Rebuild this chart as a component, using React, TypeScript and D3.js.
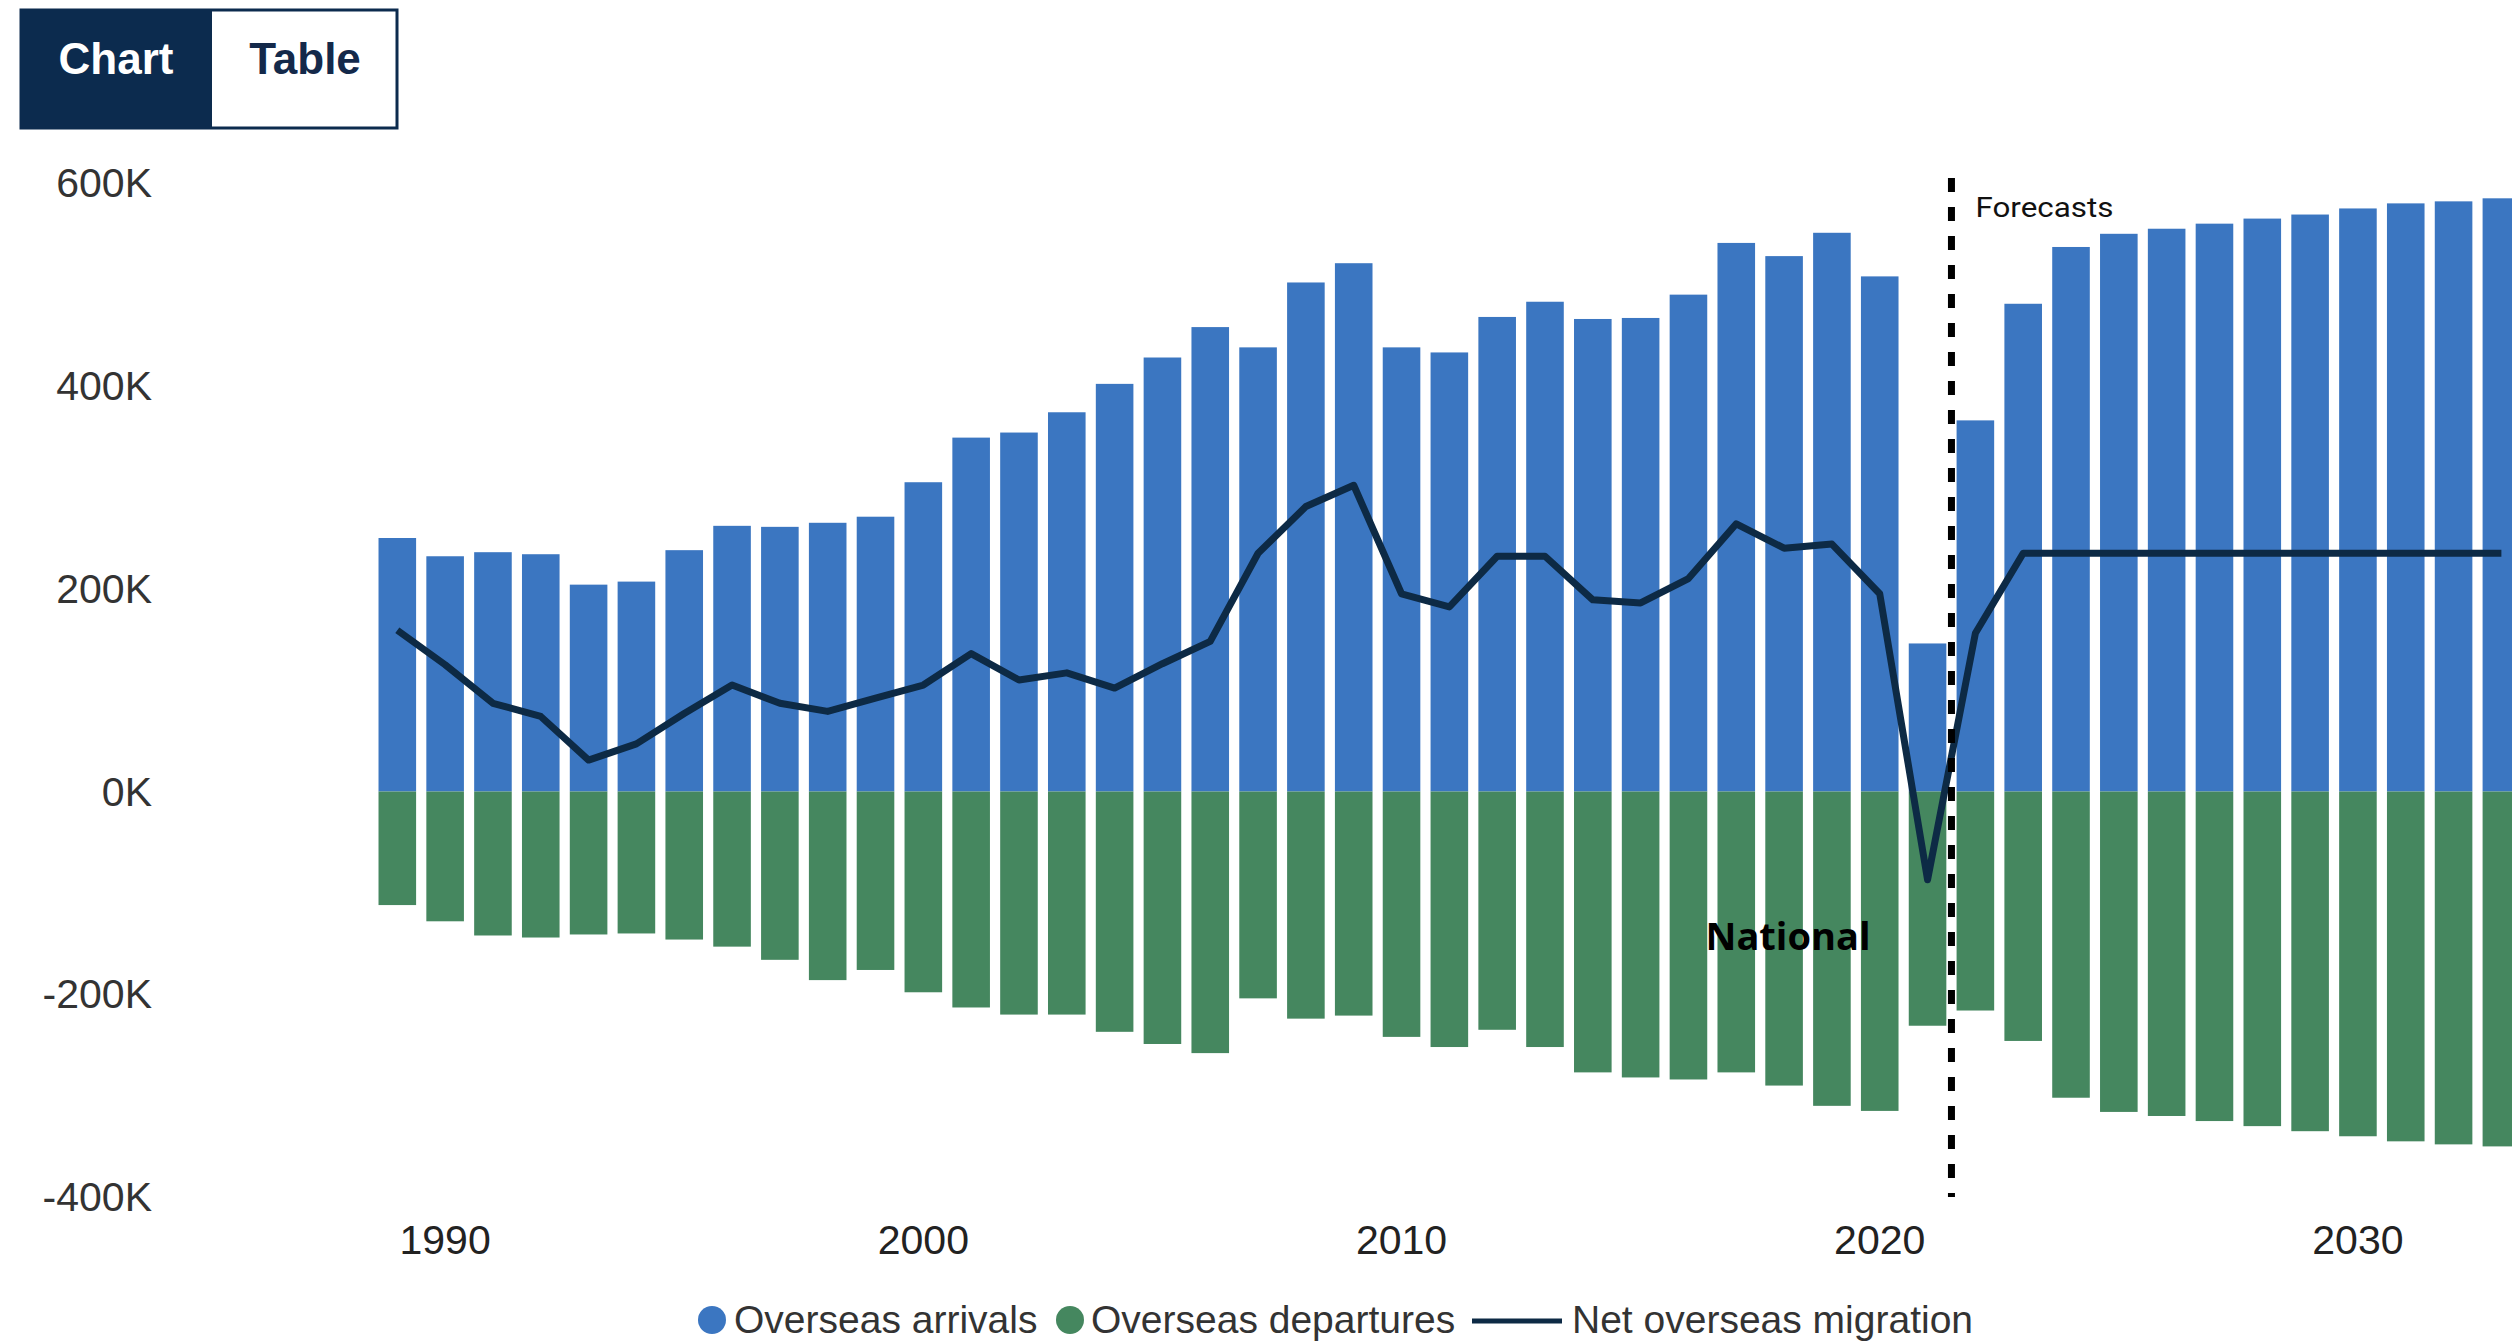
import React from 'react';
import * as d3 from 'd3';

// values in thousands
const years = [
  1989, 1990, 1991, 1992, 1993, 1994, 1995, 1996, 1997, 1998, 1999,
  2000, 2001, 2002, 2003, 2004, 2005, 2006, 2007, 2008, 2009,
  2010, 2011, 2012, 2013, 2014, 2015, 2016, 2017, 2018, 2019,
  2020, 2021, 2022, 2023, 2024, 2025, 2026, 2027, 2028, 2029,
  2030, 2031, 2032, 2033,
];
const arrivals = [
  250, 232, 236, 234, 204, 207, 238, 262, 261, 265, 271,
  305, 349, 354, 374, 402, 428, 458, 438, 502, 521,
  438, 433, 468, 483, 466, 467, 490, 541, 528, 551,
  508, 146, 366, 481, 537, 550, 555, 560, 565, 569,
  575, 580, 582, 585,
];
const departures = [
  112, 128, 142, 144, 141, 140, 146, 153, 166, 186, 176,
  198, 213, 220, 220, 237, 249, 258, 204, 224, 221,
  242, 252, 235, 252, 277, 282, 284, 277, 290, 310,
  315, 231, 216, 246, 302, 316, 320, 325, 330, 335,
  340, 345, 348, 350,
];
const netMigration = [
  159, 125, 87, 74, 31, 47, 77, 105, 87, 79, 92,
  105, 136, 110, 117, 102, 126, 148, 235, 281, 302,
  195, 182, 232, 232, 189, 186, 210, 264, 240, 244,
  195, -87, 156, 235, 235, 235, 235, 235, 235, 235,
  235, 235, 235, 235,
];
const yTicks = [-400, -200, 0, 200, 400, 600];
const xTickYears = [1990, 2000, 2010, 2020, 2030];
const lastActual = 2021;
const firstForecast = 2022;

const W = 2512;
const H = 1341;
const BLUE = '#3b76c1';
const GREEN = '#45875f';
const NAVY = '#0d2a45';
const TOGGLE = '#0c2b4e';
const FONT = '"Liberation Sans", Arial, Helvetica, sans-serif';

export default function App() {
  const x = d3.scaleBand<number>()
    .domain(years)
    .range([373.4, 2525.3])
    .paddingInner(0.214)
    .paddingOuter(0.107);
  const y = d3.scaleLinear().domain([-400, 600]).range([1197.1, 183.1]);
  const cx = (yr: number) => (x(yr) as number) + x.bandwidth() / 2;

  const line = d3.line<number>()
    .x((_, i) => cx(years[i]))
    .y(d => y(d));

  const forecastX = (cx(lastActual) + cx(firstForecast)) / 2;

  return (
    <svg
      width={W}
      height={H}
      style={{ position: 'absolute', left: 0, top: 0, background: '#fff' }}
    >
      {/* chart / table toggle */}
      <g>
        <rect x={21} y={10} width={376} height={118} fill="#fff" stroke={TOGGLE} strokeWidth={3} />
        <rect x={21} y={10} width={191} height={118} fill={TOGGLE} />
        <text x={116} y={74} textAnchor="middle" fontFamily={FONT} fontWeight="bold" fontSize={44} fill="#fff">Chart</text>
        <text x={305} y={74} textAnchor="middle" fontFamily={FONT} fontWeight="bold" fontSize={44} fill="#14294a">Table</text>
      </g>

      {/* y axis labels */}
      <g fontFamily={FONT} fontSize={41} fill="#333" textAnchor="end">
        {yTicks.map(t => (
          <text key={t} x={152} y={y(t)} dominantBaseline="central">{t}K</text>
        ))}
      </g>

      {/* bars */}
      <g>
        {years.map((yr, i) => (
          <rect key={'a' + yr} x={x(yr)} y={y(arrivals[i])} width={x.bandwidth()} height={y(0) - y(arrivals[i])} fill={BLUE} />
        ))}
        {years.map((yr, i) => (
          <rect key={'d' + yr} x={x(yr)} y={y(0)} width={x.bandwidth()} height={y(-departures[i]) - y(0)} fill={GREEN} />
        ))}
      </g>

      {/* net migration line */}
      <path d={line(netMigration) || ''} fill="none" stroke={NAVY} strokeWidth={7} strokeLinejoin="round" />

      {/* forecast divider */}
      <line x1={forecastX} x2={forecastX} y1={y(605)} y2={y(-400)} stroke="#000" strokeWidth={7} strokeDasharray="14 15" />
      <text x={forecastX + 24} y={217} fontFamily="Roboto, sans-serif" fontSize={28} fill="#111" textLength={138} lengthAdjust="spacingAndGlyphs">Forecasts</text>

      <text x={1788} y={950} textAnchor="middle" fontFamily='"Open Sans", sans-serif' fontWeight="bold" fontSize={38} fill="#000">National</text>

      {/* x axis labels */}
      <g fontFamily={FONT} fontSize={41} fill="#222" textAnchor="middle">
        {xTickYears.map(yr => (
          <text key={yr} x={cx(yr)} y={1254}>{yr}</text>
        ))}
      </g>

      {/* legend */}
      <g fontFamily={FONT} fontSize={39} fill="#333">
        <circle cx={712} cy={1320} r={14} fill={BLUE} />
        <text x={734} y={1333}>Overseas arrivals</text>
        <circle cx={1070} cy={1320} r={14} fill={GREEN} />
        <text x={1091} y={1333}>Overseas departures</text>
        <line x1={1472} x2={1562} y1={1321} y2={1321} stroke={NAVY} strokeWidth={5} />
        <text x={1572} y={1333}>Net overseas migration</text>
      </g>
    </svg>
  );
}
